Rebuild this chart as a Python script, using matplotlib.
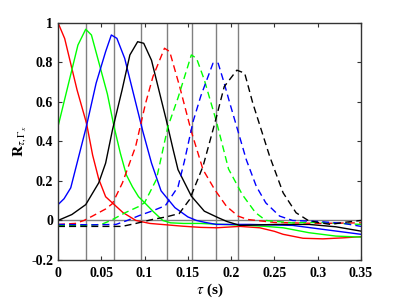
import matplotlib
matplotlib.use("Agg")
import matplotlib.pyplot as plt

plt.rcParams['font.family'] = ['Liberation Serif', 'DejaVu Serif']
plt.rcParams['mathtext.fontset'] = 'stix'

# peak positions (vertical guide lines)
peak_taus = [0.0328, 0.0647, 0.0963, 0.126, 0.155, 0.182, 0.208]

# solid curves
red_t = [0, 0.0077, 0.022, 0.033, 0.04, 0.047, 0.055, 0.065, 0.075, 0.09, 0.106, 0.125,
         0.144, 0.165, 0.183, 0.21, 0.233, 0.25, 0.26, 0.283, 0.306, 0.329, 0.35]
red_v = [1.0, 0.92, 0.66, 0.49, 0.33, 0.21, 0.12, 0.08, 0.04, 0.0, -0.015, -0.022,
         -0.029, -0.035, -0.037, -0.03, -0.037, -0.055, -0.07, -0.09, -0.093, -0.088, -0.082]

green_t = [0, 0.023, 0.032, 0.0386, 0.057, 0.0647, 0.072, 0.079, 0.086, 0.093, 0.1, 0.11,
           0.121, 0.13, 0.145, 0.164, 0.19, 0.221, 0.24, 0.26, 0.29, 0.321, 0.35]
green_v = [0.475, 0.887, 0.967, 0.938, 0.64, 0.475, 0.34, 0.23, 0.17, 0.12, 0.09, 0.045,
           0.0, -0.012, -0.015, -0.015, -0.02, -0.025, -0.03, -0.037, -0.062, -0.079, -0.084]

blue_t = [0, 0.007, 0.0147, 0.0328, 0.044, 0.055, 0.0616, 0.068, 0.077, 0.098, 0.108,
          0.119, 0.135, 0.15, 0.16, 0.17, 0.183, 0.221, 0.271, 0.306, 0.35]
blue_v = [0.08, 0.11, 0.165, 0.476, 0.694, 0.854, 0.938, 0.921, 0.82, 0.45, 0.29,
          0.15, 0.065, 0.018, 0.0, -0.01, -0.02, -0.02, -0.025, -0.045, -0.07]

black_t = [0, 0.016, 0.032, 0.047, 0.055, 0.063, 0.074, 0.083, 0.092, 0.099, 0.108, 0.125,
           0.133, 0.1386, 0.154, 0.169, 0.185, 0.195, 0.21, 0.252, 0.29, 0.321, 0.35]
black_v = [0.0, 0.03, 0.08, 0.19, 0.29, 0.46, 0.66, 0.837, 0.904, 0.896, 0.81, 0.509,
           0.358, 0.257, 0.123, 0.047, 0.014, -0.005, -0.025, -0.02, -0.02, -0.032, -0.054]

# dashed curves
red_d_t = [0, 0.02, 0.03, 0.0397, 0.055, 0.0628, 0.0744, 0.0897, 0.101, 0.1097, 0.123, 0.129,
           0.1405, 0.154, 0.1675, 0.181, 0.1945, 0.208, 0.219, 0.25, 0.3, 0.35]
red_d_v = [-0.02, -0.015, 0.0, 0.022, 0.058, 0.085, 0.19, 0.375, 0.59, 0.728, 0.871, 0.854,
           0.677, 0.45, 0.257, 0.156, 0.072, 0.022, 0.005, -0.01, -0.015, -0.012]

green_d_t = [0, 0.03, 0.05, 0.061, 0.078, 0.093, 0.1, 0.1136, 0.127, 0.1386, 0.154, 0.16,
             0.169, 0.183, 0.197, 0.213, 0.228, 0.24, 0.27, 0.3, 0.35]
green_d_v = [-0.025, -0.025, -0.02, 0.0, 0.04, 0.07, 0.09, 0.207, 0.475, 0.62, 0.837, 0.82,
             0.711, 0.5, 0.26, 0.13, 0.04, 0.0, -0.012, -0.01, -0.02]

blue_d_t = [0, 0.04, 0.067, 0.08, 0.094, 0.11, 0.124, 0.1386, 0.146, 0.156, 0.165, 0.179,
            0.185, 0.192, 0.198, 0.208, 0.2175, 0.229, 0.24, 0.256, 0.271, 0.3, 0.33, 0.35]
blue_d_v = [-0.02, -0.022, -0.02, 0.0, 0.025, 0.05, 0.075, 0.17, 0.3, 0.5, 0.63, 0.795,
            0.795, 0.694, 0.6, 0.45, 0.307, 0.173, 0.089, 0.022, 0.0, -0.005, -0.015, -0.03]

black_d_t = [0, 0.04, 0.074, 0.09, 0.109, 0.125, 0.14, 0.152, 0.1675, 0.181, 0.192, 0.2066,
             0.2156, 0.225, 0.2445, 0.26, 0.275, 0.289, 0.3, 0.315, 0.33, 0.35]
black_d_v = [-0.03, -0.03, -0.03, -0.015, 0.005, 0.018, 0.035, 0.106, 0.274, 0.49, 0.677, 0.76,
             0.745, 0.593, 0.324, 0.14, 0.039, 0.0, -0.01, -0.02, -0.01, 0.0]

x_ticks = [0, 0.05, 0.1, 0.15, 0.2, 0.25, 0.3, 0.35]
x_labels = ['0', '0.05', '0.1', '0.15', '0.2', '0.25', '0.3', '0.35']
y_ticks = [-0.2, 0, 0.2, 0.4, 0.6, 0.8, 1]
y_labels = ['-0.2', '0', '0.2', '0.4', '0.6', '0.8', '1']

fig = plt.figure(figsize=(3.99, 2.99), dpi=100)
ax = fig.add_axes([0.1454, 0.1304, 0.7594, 0.7936])

for t in peak_taus:
    ax.axvline(t, color='#808080', lw=1.0, zorder=1)
ax.axhline(0, color='#808080', lw=1.0, zorder=1)

ax.plot(red_t, red_v, color='red', lw=1)
ax.plot(green_t, green_v, color='#00ff00', lw=1)
ax.plot(blue_t, blue_v, color='blue', lw=1)
ax.plot(black_t, black_v, color='black', lw=1)
ax.plot(red_d_t, red_d_v, color='red', lw=1, ls=(0, (5, 3)))
ax.plot(green_d_t, green_d_v, color='#00ff00', lw=1, ls=(0, (5, 3)))
ax.plot(blue_d_t, blue_d_v, color='blue', lw=1, ls=(0, (5, 3)))
ax.plot(black_d_t, black_d_v, color='black', lw=1, ls=(0, (5, 3)))

ax.set_xlim(0, 0.35)
ax.set_ylim(-0.2, 1)
ax.set_xticks(x_ticks)
ax.set_xticklabels(x_labels, fontweight='bold', fontsize=10)
ax.set_yticks(y_ticks)
ax.set_yticklabels(y_labels, fontweight='bold', fontsize=10)
ax.tick_params(axis='x', pad=5)
ax.tick_params(direction='in', top=True, right=True, length=3, width=0.8, color='#333333')
for s in ax.spines.values():
    s.set_linewidth(1.0)
    s.set_color('#333333')

ax.set_xlabel(r'$\tau$ (s)', fontsize=11, fontweight='bold', labelpad=1)
ax.set_ylabel(r'$\mathbf{R}_{\tau,\Gamma_x}$', fontsize=11, labelpad=2)

fig.savefig('out.png', dpi=100)
